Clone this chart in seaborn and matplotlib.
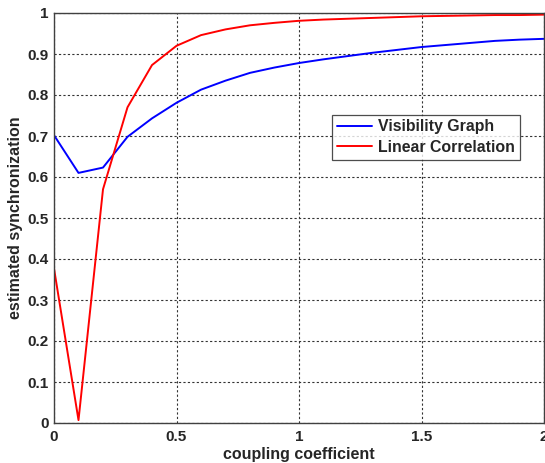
import numpy as np
import pandas as pd
import matplotlib
matplotlib.use("Agg")
import matplotlib.pyplot as plt
import seaborn as sns

coupling = [0.0, 0.1, 0.2, 0.3, 0.4, 0.5, 0.6, 0.7, 0.8, 0.9, 1.0,
            1.1, 1.2, 1.3, 1.4, 1.5, 1.6, 1.7, 1.8, 1.9, 2.0]
visibility_graph = [0.702, 0.610, 0.623, 0.698, 0.743, 0.781, 0.813, 0.835, 0.854, 0.867, 0.878,
                    0.887, 0.895, 0.903, 0.910, 0.917, 0.922, 0.927, 0.932, 0.935, 0.937]
linear_correlation = [0.377, 0.007, 0.570, 0.770, 0.873, 0.920, 0.946, 0.960, 0.970, 0.976, 0.981,
                      0.984, 0.986, 0.988, 0.990, 0.992, 0.993, 0.994, 0.995, 0.995, 0.996]
series_names = ["Visibility Graph", "Linear Correlation"]
xticks = [0, 0.5, 1, 1.5, 2]
xtick_labels = ["0", "0.5", "1", "1.5", "2"]
yticks = [0, 0.1, 0.2, 0.3, 0.4, 0.5, 0.6, 0.7, 0.8, 0.9, 1.0]
ytick_labels = ["0", "0.1", "0.2", "0.3", "0.4", "0.5", "0.6", "0.7", "0.8", "0.9", "1"]

df = pd.DataFrame({
    "x": coupling * 2,
    "y": visibility_graph + linear_correlation,
    "series": [series_names[0]] * len(coupling) + [series_names[1]] * len(coupling),
})

sns.set_style("white")
plt.rcParams['font.family'] = ['Liberation Sans', 'DejaVu Sans']
plt.rcParams['font.weight'] = 'bold'

fig = plt.figure(figsize=(5.45, 4.63), dpi=100)
ax = fig.add_axes([54 / 545, 1 - 423 / 463, 490 / 545, 410 / 463])

sns.lineplot(data=df, x="x", y="y", hue="series",
             palette={series_names[0]: "#0000ff", series_names[1]: "#ff0000"},
             linewidth=1.4, ax=ax, legend=True)

ax.set_xlim(0, 2)
ax.set_ylim(0, 1)
ax.set_xticks(xticks)
ax.set_xticklabels(xtick_labels, fontsize=11, fontweight='bold')
ax.set_yticks(yticks)
ax.set_yticklabels(ytick_labels, fontsize=11, fontweight='bold')
ax.tick_params(direction='in', length=4, width=0.8, color='#404040')
ax.tick_params(axis='x', pad=5)
ax.tick_params(axis='y', pad=4)
ax.grid(True, linestyle=(0, (2, 2)), color='#333333', linewidth=0.8)
for s in ax.spines.values():
    s.set_color('#404040')
    s.set_linewidth(1.0)

ax.set_xlabel("coupling coefficient", fontsize=11.5, fontweight='bold', labelpad=2)
ax.set_ylabel("estimated synchronization", fontsize=11.5, fontweight='bold', labelpad=3)

leg = ax.legend(loc='upper left', bbox_to_anchor=(1.135 / 2, 0.752),
                fontsize=11.4, frameon=True, fancybox=False,
                edgecolor='#202020', borderpad=0.3, handlelength=2.2,
                handletextpad=0.4, labelspacing=0.35, borderaxespad=0)
leg.get_frame().set_linewidth(0.9)
for t in leg.get_texts():
    t.set_fontweight('bold')

fig.savefig("out.png", dpi=100)
